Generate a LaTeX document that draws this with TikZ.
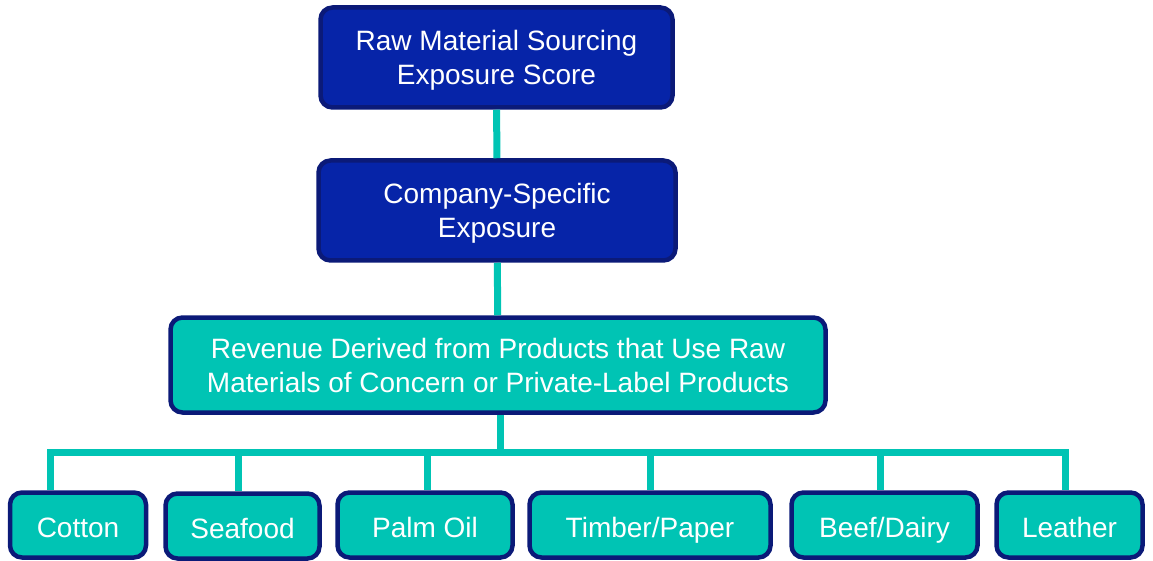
\documentclass[tikz,border=0pt]{standalone}
\usepackage{fontspec}
\setmainfont{Liberation Sans}
\usepackage{xcolor}
\usetikzlibrary{calc}
\definecolor{navyfill}{HTML}{0624A8}
\definecolor{navyline}{HTML}{0B1A78}
\definecolor{tealfill}{HTML}{00C4B4}

\begin{document}
\begin{tikzpicture}[x=1pt,y=-1pt]
        \useasboundingbox (0,0) rectangle (1153,561);
        \tikzstyle{every node}=[draw=navyline,line width=4.5pt,rounded corners=12pt,text=white,align=center,inner sep=0pt,font=\fontsize{28}{34}\selectfont]
        \tikzstyle{topbox}=[fill=navyfill,text depth=-2pt]
        \tikzstyle{leafbox}=[fill=tealfill,minimum height=65pt,text height=28pt,text depth=4pt]
        \tikzstyle{link}=[draw=tealfill,line width=7pt]

        \node[topbox,minimum width=352pt,minimum height=100pt] (1) at (496.5,57.5) {Raw Material Sourcing\\Exposure Score};
        \node[topbox,minimum width=357pt,minimum height=100pt] (2) at (497,210.5) {Company-Specific\\Exposure};
        \node[fill=tealfill,minimum width=655pt,minimum height=95pt] (3) at (498,365) {Revenue Derived from Products that Use Raw\\Materials of Concern or Private-Label Products};

        \node[leafbox,minimum width=136pt] (31) at (78,525) {Cotton};
        \node[leafbox,minimum width=154pt] (32) at (242.5,526) {Seafood};
        \node[leafbox,minimum width=175pt] (33) at (425,525) {Palm Oil};
        \node[leafbox,minimum width=241pt] (34) at (650,525) {Timber/Paper};
        \node[leafbox,minimum width=186pt] (35) at (884.5,525) {Beef/Dairy};
        \node[leafbox,minimum width=146pt] (36) at (1069.5,525) {Leather};

        \draw[link] (1) to (2);
        \draw[link] (2) to (3);

        \coordinate (30) at ($(3.south)+(2,37)$);
        \coordinate (b1) at (50,452);
        \coordinate (b2) at (238,452);
        \coordinate (b3) at (427,452);
        \coordinate (b4) at (650,452);
        \coordinate (b5) at (880,452);
        \coordinate (b6) at (1065,452);

        \draw[link] (3.south -| 30) to (30);
        \draw[link,line cap=rect] (b1) to (b6);
        \draw[link] (b1) to (b1 |- 31.north);
        \draw[link] (b2) to (b2 |- 32.north);
        \draw[link] (b3) to (b3 |- 33.north);
        \draw[link] (b4) to (b4 |- 34.north);
        \draw[link] (b5) to (b5 |- 35.north);
        \draw[link] (b6) to (b6 |- 36.north);
    \end{tikzpicture}
\end{document}
